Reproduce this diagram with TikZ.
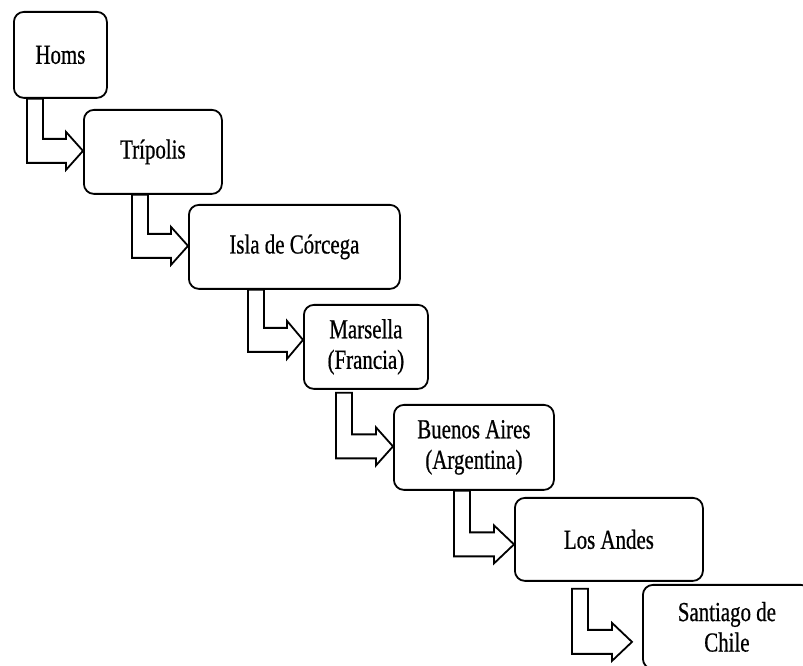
\documentclass[tikz,border=0pt]{standalone}
\usepackage{fontspec}
\setmainfont{Liberation Serif}[FakeStretch=0.76, FakeBold=0.6]
\usetikzlibrary{calc}

\tikzset{
  place/.style={draw=black, line width=1.8pt, rounded corners=10pt, fill=white,
    anchor=north west, inner sep=0pt, align=center,
    font=\fontsize{27.5}{30.5}\selectfont},
  blockarrow/.style={draw=black, line width=1.8pt, fill=white, line join=miter}
}

% Hollow bent arrow from the bottom of #1 to the left side of #2.
% #3 offset of the outer edge from #1's left side, #4 gap below #1,
% #5 gap before #2, #6 vertical shift of the tip, #7 head length
\newcommand\bentarrow[7]{%
  \draw[blockarrow] let \p1=(#1.south west), \p2=(#2.west) in
    (\x1+#3, \y1-#4) -- (\x1+#3, \y2+#6-12)
    -- (\x2-#5-#7, \y2+#6-12) -- (\x2-#5-#7, \y2+#6-19)
    -- (\x2-#5, \y2+#6)
    -- (\x2-#5-#7, \y2+#6+19) -- (\x2-#5-#7, \y2+#6+12)
    -- (\x1+#3+16, \y2+#6+12) -- (\x1+#3+16, \y1-#4) -- cycle;}

\begin{document}
\begin{tikzpicture}[x=1pt, y=1pt]
  \useasboundingbox (0,0) rectangle (803,666);
  \clip (0,0) rectangle (803,666);

  \node[place, minimum width=93pt,  minimum height=86pt] (homs) at (13,655) {Homs};
  \node[place, minimum width=138pt, minimum height=84pt] (tripolis) at (83,557) {Trípolis};
  \node[place, minimum width=211pt, minimum height=84pt] (corcega) at (188,462) {Isla de Córcega};
  \node[place, minimum width=124pt, minimum height=84pt] (marsella) at (303,362) {Marsella\\(Francia)};
  \node[place, minimum width=160pt, minimum height=85pt] (buenos) at (393,262) {Buenos Aires\\(Argentina)};
  \node[place, minimum width=188pt, minimum height=83pt] (andes) at (514,169) {Los Andes};
  \node[place, minimum width=168pt, minimum height=84pt] (santiago) at (642,82) {Santiago de\\Chile};

  \bentarrow{homs}{tripolis}{14}{0}{0}{1}{17}
  \bentarrow{tripolis}{corcega}{49}{0}{0}{1}{17}
  \bentarrow{corcega}{marsella}{60}{0}{0}{7}{16}
  \bentarrow{marsella}{buenos}{33}{3}{0}{1}{17}
  \bentarrow{buenos}{andes}{61}{0}{0}{-5}{20}
  \bentarrow{andes}{santiago}{58}{7}{10}{-15}{20}
\end{tikzpicture}
\end{document}
